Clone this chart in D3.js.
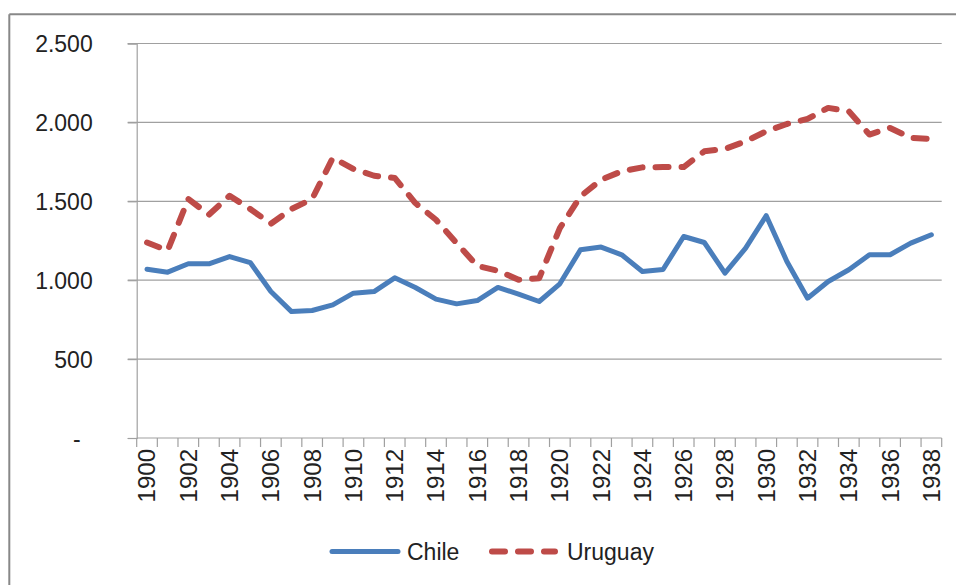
<!DOCTYPE html>
<html>
<head>
<meta charset="utf-8">
<script src="https://cdn.jsdelivr.net/npm/d3@7"></script>
<style>
  html, body { margin: 0; padding: 0; background: #fff; }
  svg { display: block; }
</style>
</head>
<body>
<svg id="chart" width="956" height="585"></svg>
<script>
const years = d3.range(1900, 1939).map(String);
const chile = [1070, 1051, 1104, 1104, 1150, 1112, 928, 801, 808, 844,
               918, 928, 1015, 954, 880, 850, 871, 954, 912, 865,
               977, 1193, 1210, 1161, 1055, 1068, 1277, 1239, 1045, 1203,
               1409, 1119, 886, 992, 1066, 1161, 1161, 1235, 1288];
const uruguay = [1239, 1188, 1515, 1415, 1535, 1451, 1358, 1451, 1515, 1775,
                 1705, 1662, 1648, 1489, 1383, 1235, 1091, 1060, 1003, 1013,
                 1330, 1531, 1637, 1690, 1715, 1717, 1717, 1817, 1832, 1880,
                 1944, 1990, 2022, 2092, 2071, 1923, 1965, 1902, 1895];
const yTicks = [0, 500, 1000, 1500, 2000, 2500];
const seriesNames = ["Chile", "Uruguay"];

const svg = d3.select("#chart");
const mLeft = 136.7, mRight = 941.7, mTop = 43.5, mBottom = 438;

// outer frame (top & left visible)
svg.append("line").attr("x1", 9.3).attr("x2", 956).attr("y1", 14.3).attr("y2", 14.3)
  .attr("stroke", "#888").attr("stroke-width", 2);
svg.append("line").attr("x1", 9.3).attr("x2", 9.3).attr("y1", 14.3).attr("y2", 585)
  .attr("stroke", "#888").attr("stroke-width", 2);

const x = d3.scaleBand().domain(years).range([mLeft, mRight]).padding(0);
const y = d3.scaleLinear().domain([0, 2500]).range([mBottom, mTop]);

const fmt = v => v === 0 ? "-" : d3.format(",")(v).replace(/,/g, ".");

// gridlines
svg.append("g").selectAll("line").data(yTicks.filter(d => d > 0)).join("line")
  .attr("x1", mLeft - 9).attr("x2", mRight)
  .attr("y1", d => y(d)).attr("y2", d => y(d))
  .attr("stroke", "#a0a0a0").attr("stroke-width", 1.2);

// y axis
const yAxis = svg.append("g").attr("transform", `translate(${mLeft},0)`)
  .call(d3.axisLeft(y).tickValues(yTicks).tickSize(9).tickFormat(fmt));
yAxis.select(".domain").attr("stroke", "#a0a0a0").attr("stroke-width", 1.2);
yAxis.selectAll(".tick line").attr("stroke", "#a0a0a0").attr("stroke-width", 1.2);
yAxis.selectAll(".tick text")
  .attr("font-family", "'Liberation Sans', Arial, sans-serif")
  .attr("font-size", 23).attr("fill", "#222")
  .attr("x", d => d === 0 ? -56 : -44).attr("dy", "0.35em");

// x axis: ticks at band boundaries
const xAxisG = svg.append("g").attr("transform", `translate(0,${mBottom})`);
xAxisG.append("line").attr("x1", mLeft).attr("x2", mRight).attr("y1", 0).attr("y2", 0)
  .attr("stroke", "#a0a0a0").attr("stroke-width", 1.2);
const bounds = years.map(d => x(d)).concat([x(years[years.length - 1]) + x.bandwidth()]);
xAxisG.selectAll("line.tk").data(bounds).join("line").attr("class", "tk")
  .attr("x1", d => d).attr("x2", d => d).attr("y1", 0).attr("y2", 9)
  .attr("stroke", "#a0a0a0").attr("stroke-width", 1.2);
xAxisG.selectAll("text").data(years.filter((d, i) => i % 2 === 0)).join("text")
  .attr("transform", d => `translate(${x(d) + x.bandwidth() / 2},11) rotate(-90)`)
  .attr("text-anchor", "end").attr("dy", "0.35em")
  .attr("font-family", "'Liberation Sans', Arial, sans-serif")
  .attr("font-size", 24).attr("fill", "#222")
  .text(d => d);

// lines
const cx = (d, i) => x(years[i]) + x.bandwidth() / 2;
const lineGen = d3.line().x(cx).y(d => y(d));

svg.append("path").datum(uruguay).attr("d", lineGen)
  .attr("fill", "none").attr("stroke", "#BE4B48").attr("stroke-width", 6)
  .attr("stroke-linecap", "round").attr("stroke-linejoin", "round")
  .attr("stroke-dasharray", "13,13");
svg.append("path").datum(chile).attr("d", lineGen)
  .attr("fill", "none").attr("stroke", "#4A7EBB").attr("stroke-width", 5)
  .attr("stroke-linejoin", "round").attr("stroke-linecap", "round");

// legend
const lg = svg.append("g");
lg.append("line").attr("x1", 332).attr("x2", 398).attr("y1", 551.5).attr("y2", 551.5)
  .attr("stroke", "#4A7EBB").attr("stroke-width", 5).attr("stroke-linecap", "round");
lg.append("text").attr("x", 407).attr("y", 551.5).attr("dy", "0.35em")
  .attr("font-family", "'Liberation Sans', Arial, sans-serif").attr("font-size", 23)
  .attr("fill", "#222").text(seriesNames[0]);
lg.append("line").attr("x1", 492).attr("x2", 555).attr("y1", 551.5).attr("y2", 551.5)
  .attr("stroke", "#BE4B48").attr("stroke-width", 6).attr("stroke-linecap", "round")
  .attr("stroke-dasharray", "13,13");
lg.append("text").attr("x", 567).attr("y", 551.5).attr("dy", "0.35em")
  .attr("font-family", "'Liberation Sans', Arial, sans-serif").attr("font-size", 23)
  .attr("fill", "#222").text(seriesNames[1]);
</script>
</body>
</html>
